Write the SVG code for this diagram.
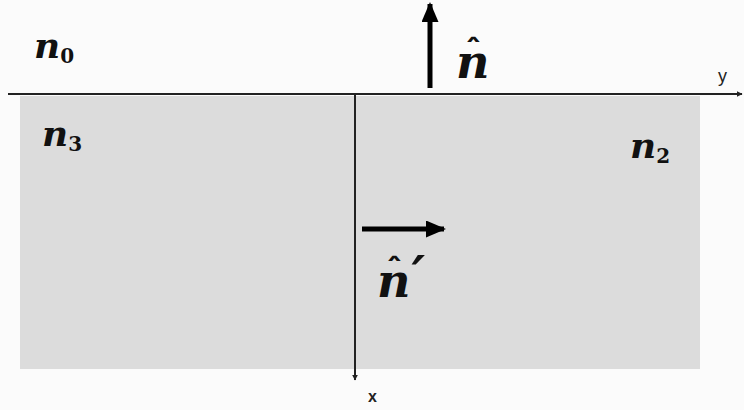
<svg xmlns="http://www.w3.org/2000/svg" width="744" height="410" viewBox="0 0 744 410">
<style>
.lbl{font-family:"DejaVu Serif","Liberation Serif",serif;font-weight:bold;font-style:italic;fill:#111}
.sub{font-family:"DejaVu Serif","Liberation Serif",serif;font-weight:bold;font-style:normal;fill:#111}
.hat{font-family:"Noto Sans CJK SC","Noto Sans CJK JP",sans-serif;font-weight:bold;font-style:normal;fill:#111}
.ax{font-family:"Liberation Sans",Arial,sans-serif;fill:#222}
.thin{stroke:#222;stroke-width:2;fill:none}
.thick{stroke:#000;stroke-width:5;fill:none}
</style>
<defs>
<marker id="ah" viewBox="0 0 10 10" refX="9" refY="5" markerWidth="6" markerHeight="6" orient="auto" markerUnits="userSpaceOnUse"><path d="M0,0 L10,5 L0,10 z" fill="#222"/></marker>
<marker id="bh" viewBox="0 0 10 10" refX="9" refY="5" markerWidth="4" markerHeight="3.4" orient="auto" preserveAspectRatio="none"><path d="M0,0 L10,5 L0,10 z" fill="#000"/></marker>
</defs>
<rect width="744" height="410" fill="#fbfbfb"/>
<g id="medium">
<rect x="20" y="96" width="680" height="273" fill="#dcdcdc"/>
</g>
<g id="connectors">
<line class="thin" x1="8" y1="94" x2="742" y2="94" marker-end="url(#ah)"/>
<line class="thin" x1="355" y1="94" x2="355" y2="380" stroke-width="1.5" marker-end="url(#ah)"/>
<line class="thick" x1="430" y1="88" x2="430" y2="4" marker-end="url(#bh)"/>
<line class="thick" x1="362" y1="229" x2="444" y2="229" marker-end="url(#bh)"/>
</g>
<g id="n0"><text class="lbl" x="34" y="58" font-size="36">n<tspan class="sub" font-size="20" dy="5">0</tspan></text></g>
<g id="n3"><text class="lbl" x="42" y="146" font-size="36">n<tspan class="sub" font-size="20" dy="5">3</tspan></text></g>
<g id="n2"><text class="lbl" x="630" y="158" font-size="36">n<tspan class="sub" font-size="20" dy="5">2</tspan></text></g>
<g id="nhat"><text class="lbl" x="456" y="78" font-size="46">n<tspan class="hat" x="455" y="72" font-size="36">＾</tspan></text></g>
<g id="nhatprime"><text class="lbl" x="377" y="297" font-size="46">n<tspan font-size="52" dx="1" dy="-4">′</tspan><tspan class="hat" x="376" y="291" font-size="36">＾</tspan></text></g>
<g id="yaxis"><text class="ax" x="718" y="82" font-size="18">y</text></g>
<g id="xaxis"><text class="ax" x="368" y="402" font-size="16" font-weight="bold">x</text></g>
</svg>
